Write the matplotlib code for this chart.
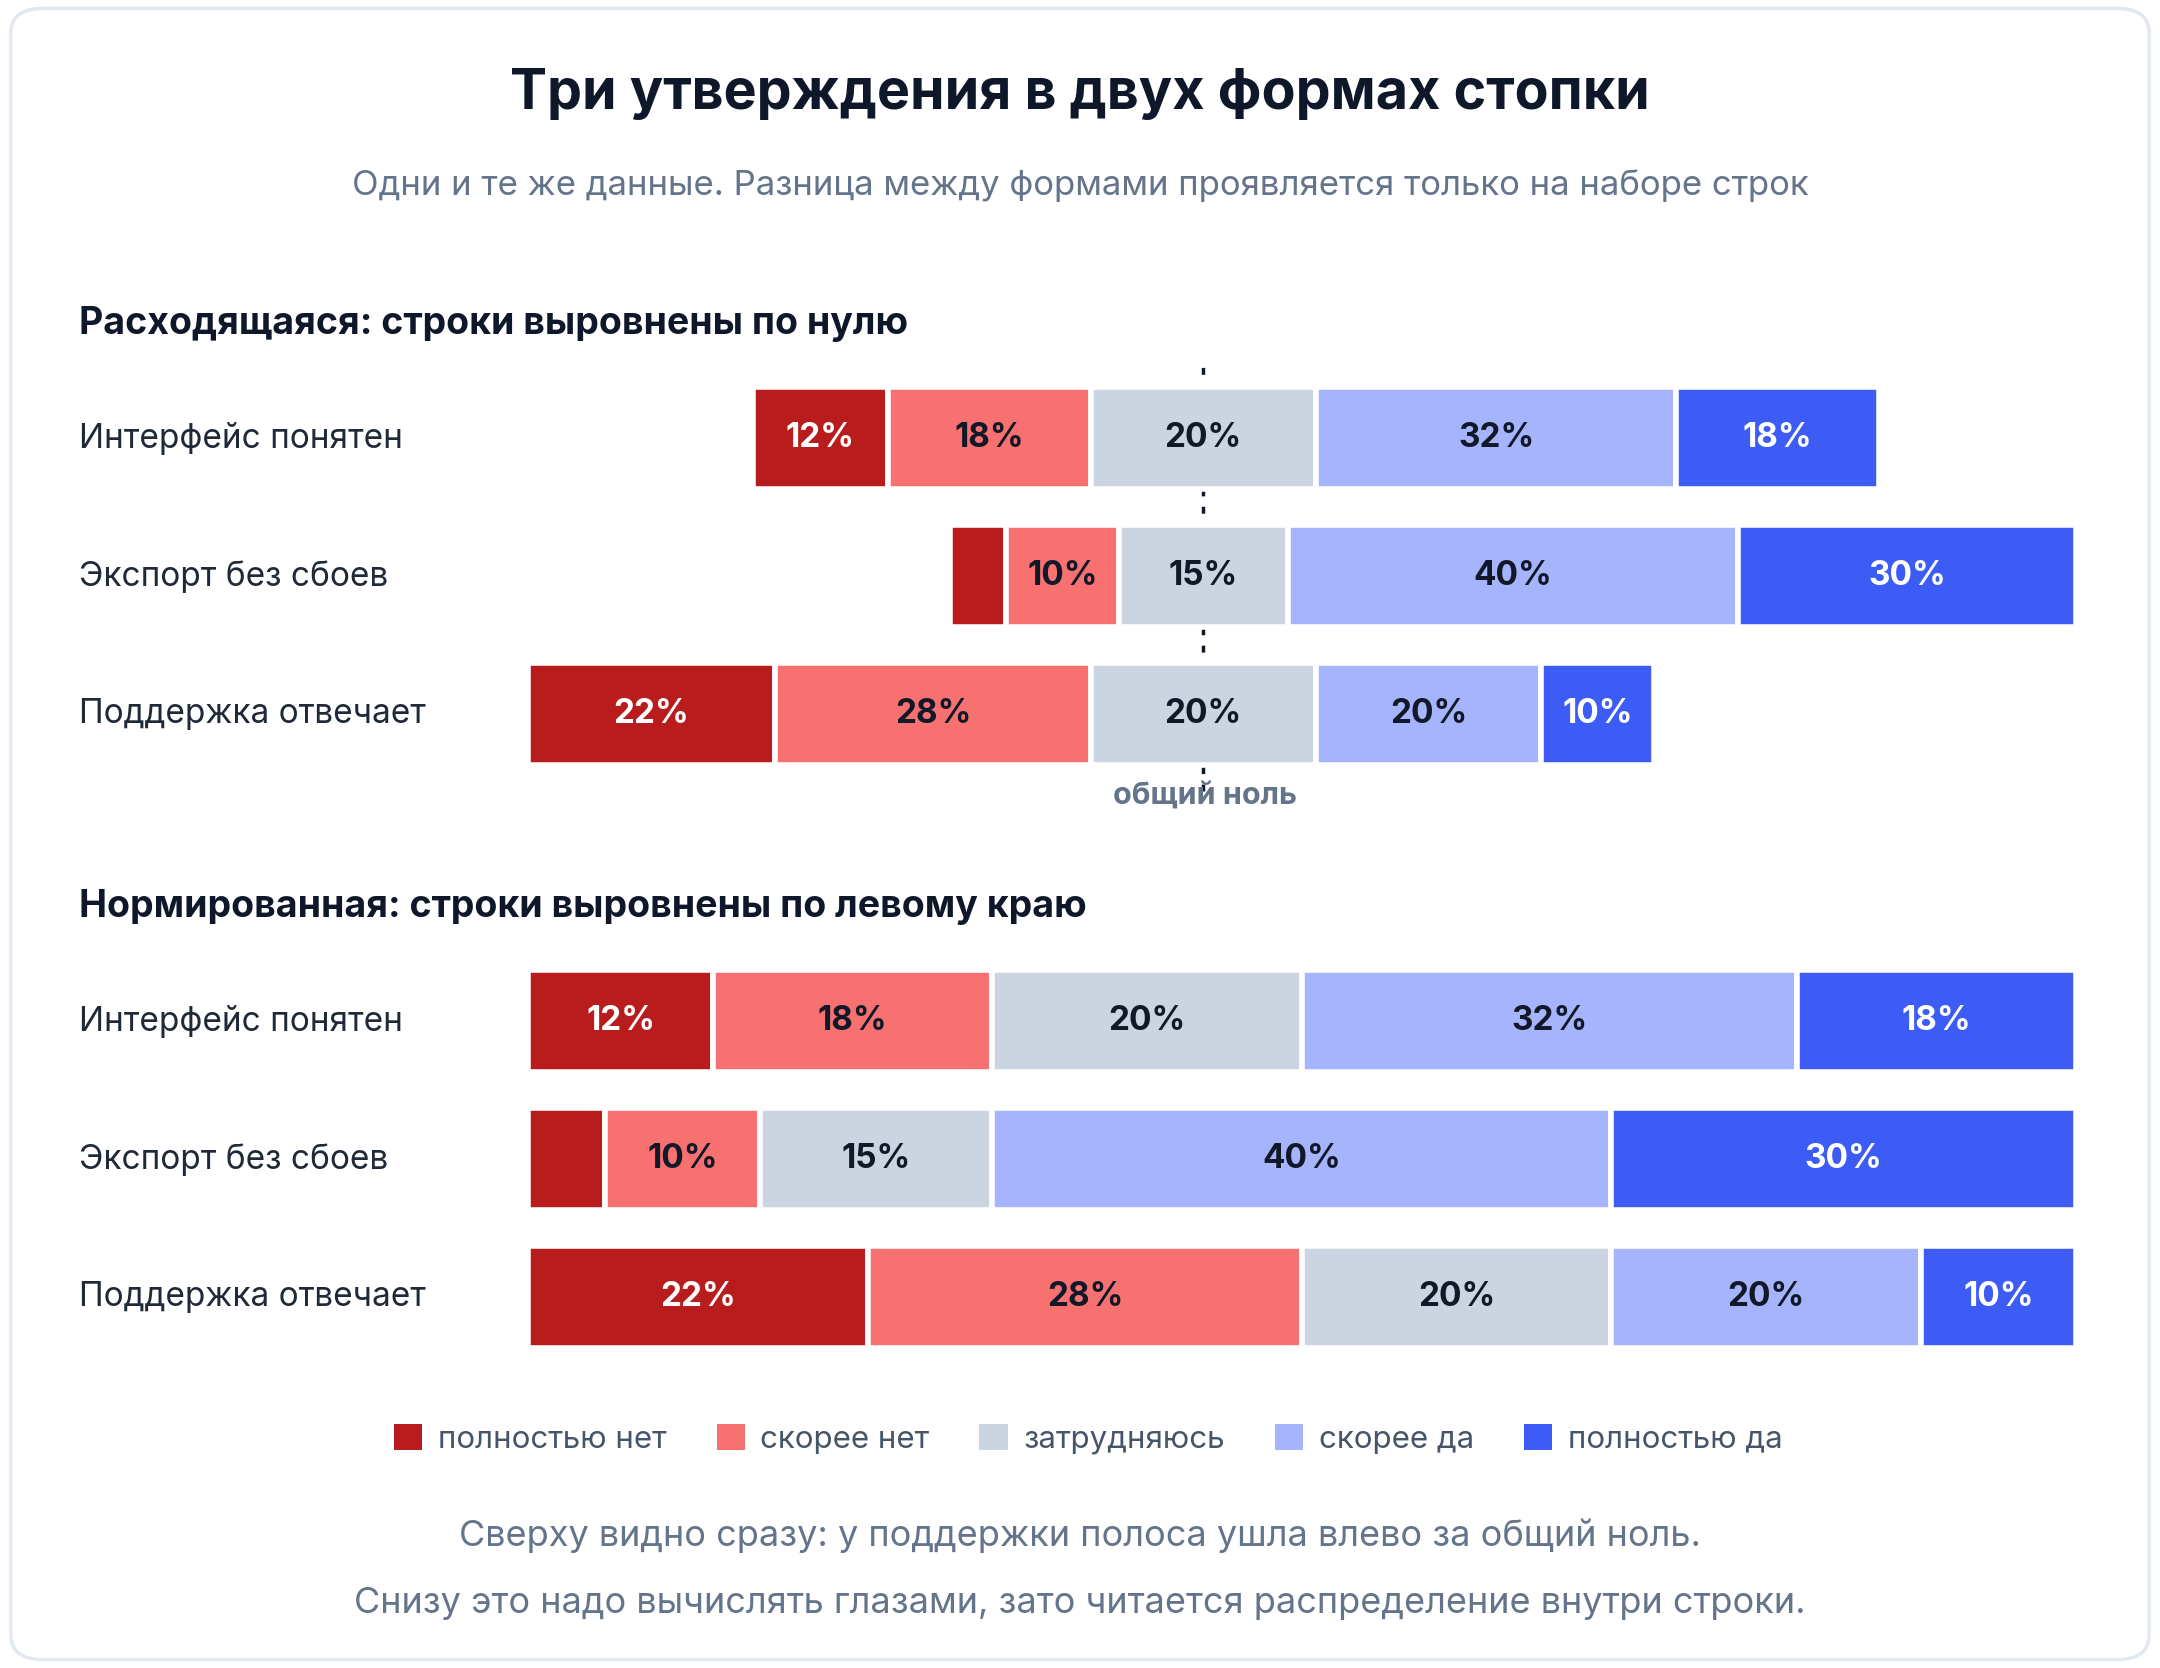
import numpy as np
import matplotlib
matplotlib.use("Agg")
import matplotlib.pyplot as plt
from matplotlib.patches import FancyBboxPatch, Patch

plt.rcParams['font.family'] = ['Inter', 'DejaVu Sans']

rows = ["Интерфейс понятен", "Экспорт без сбоев", "Поддержка отвечает"]
cats = ["полностью нет", "скорее нет", "затрудняюсь", "скорее да", "полностью да"]
values = np.array([
    [12, 18, 20, 32, 18],
    [5, 10, 15, 40, 30],
    [22, 28, 20, 20, 10],
])
colors = ["#b91c1c", "#f87171", "#cbd5e1", "#a5b4fc", "#3d5cf5"]
text_colors = ["white", "#111827", "#111827", "#111827", "white"]
min_label = 8

W, H = 1568, 1210  # layout grid of the reference

def frac(x0, y0, x1, y1):
    return [x0 / W, 1 - y1 / H, (x1 - x0) / W, (y1 - y0) / H]

fig = plt.figure(figsize=(21.6, 16.68), dpi=100)
fig.patch.set_facecolor("white")
fig.patches.append(FancyBboxPatch((0.005, 0.005), 0.99, 0.99, boxstyle="round,pad=0,rounding_size=0.015",
                                  transform=fig.transFigure, fc="white", ec="#e2e8f0", lw=2.5, zorder=-1))

fig.text(0.5, 1 - 68 / H, "Три утверждения в двух формах стопки", ha="center", va="center",
         fontsize=40, fontweight="bold", color="#0f172a")
fig.text(0.5, 1 - 135 / H, "Одни и те же данные. Разница между формами проявляется только на наборе строк",
         ha="center", va="center", fontsize=25, color="#64748b")


def draw(ax, starts, head, head_y):
    ax.set_ylim(2.5, -0.5)
    ax.axis("off")
    pos = ax.get_position()
    for i, row in enumerate(rows):
        left = starts[i]
        for j, v in enumerate(values[i]):
            ax.barh(i, v, left=left, height=0.74, color=colors[j], edgecolor="white", linewidth=4)
            if v >= min_label:
                ax.text(left + v / 2, i, f"{v}%", ha="center", va="center", fontsize=24,
                        fontweight="bold", color=text_colors[j])
            left += v
        yf = pos.y1 - (i + 0.5) / 3 * pos.height
        fig.text(57 / W, yf, row, ha="left", va="center", fontsize=24, color="#1f2937")
    fig.text(57 / W, 1 - head_y / H, head, ha="left", va="center", fontsize=27,
             fontweight="bold", color="#0f172a")


# diverging: neutral centred on zero
div_starts = [-(v[0] + v[1] + v[2] / 2) for v in values]
ax1 = fig.add_axes(frac(383, 268, 1507, 568))
ax1.set_xlim(-60, 77.5)
ax1.axvline(0, ymin=-0.02, ymax=1.03, color="#111827", ls=(0, (2, 3)), lw=2.5, zorder=0, clip_on=False)
draw(ax1, div_starts, "Расходящаяся: строки выровнены по нулю", 235)
fig.text(875 / W, 1 - 577 / H, "общий ноль", ha="center", va="center", fontsize=22,
         fontweight="bold", color="#64748b")

ax2 = fig.add_axes(frac(383, 691, 1507, 991))
ax2.set_xlim(0, 100)
draw(ax2, [0, 0, 0], "Нормированная: строки выровнены по левому краю", 658)

handles = [Patch(facecolor=c, edgecolor="none", label=l) for c, l in zip(colors, cats)]
fig.legend(handles=handles, loc="center", bbox_to_anchor=(790 / W, 1 - 1044 / H), ncol=5,
           frameon=False, fontsize=22.5, handlelength=0.9, handleheight=0.9, columnspacing=1.6,
           handletextpad=0.5, labelcolor="#475569")

fig.text(0.5, 1 - 1114 / H, "Сверху видно сразу: у поддержки полоса ушла влево за общий ноль.",
         ha="center", va="center", fontsize=26, color="#64748b")
fig.text(0.5, 1 - 1163 / H, "Снизу это надо вычислять глазами, зато читается распределение внутри строки.",
         ha="center", va="center", fontsize=26, color="#64748b")

fig.savefig("out.png", dpi=100, facecolor="white")
